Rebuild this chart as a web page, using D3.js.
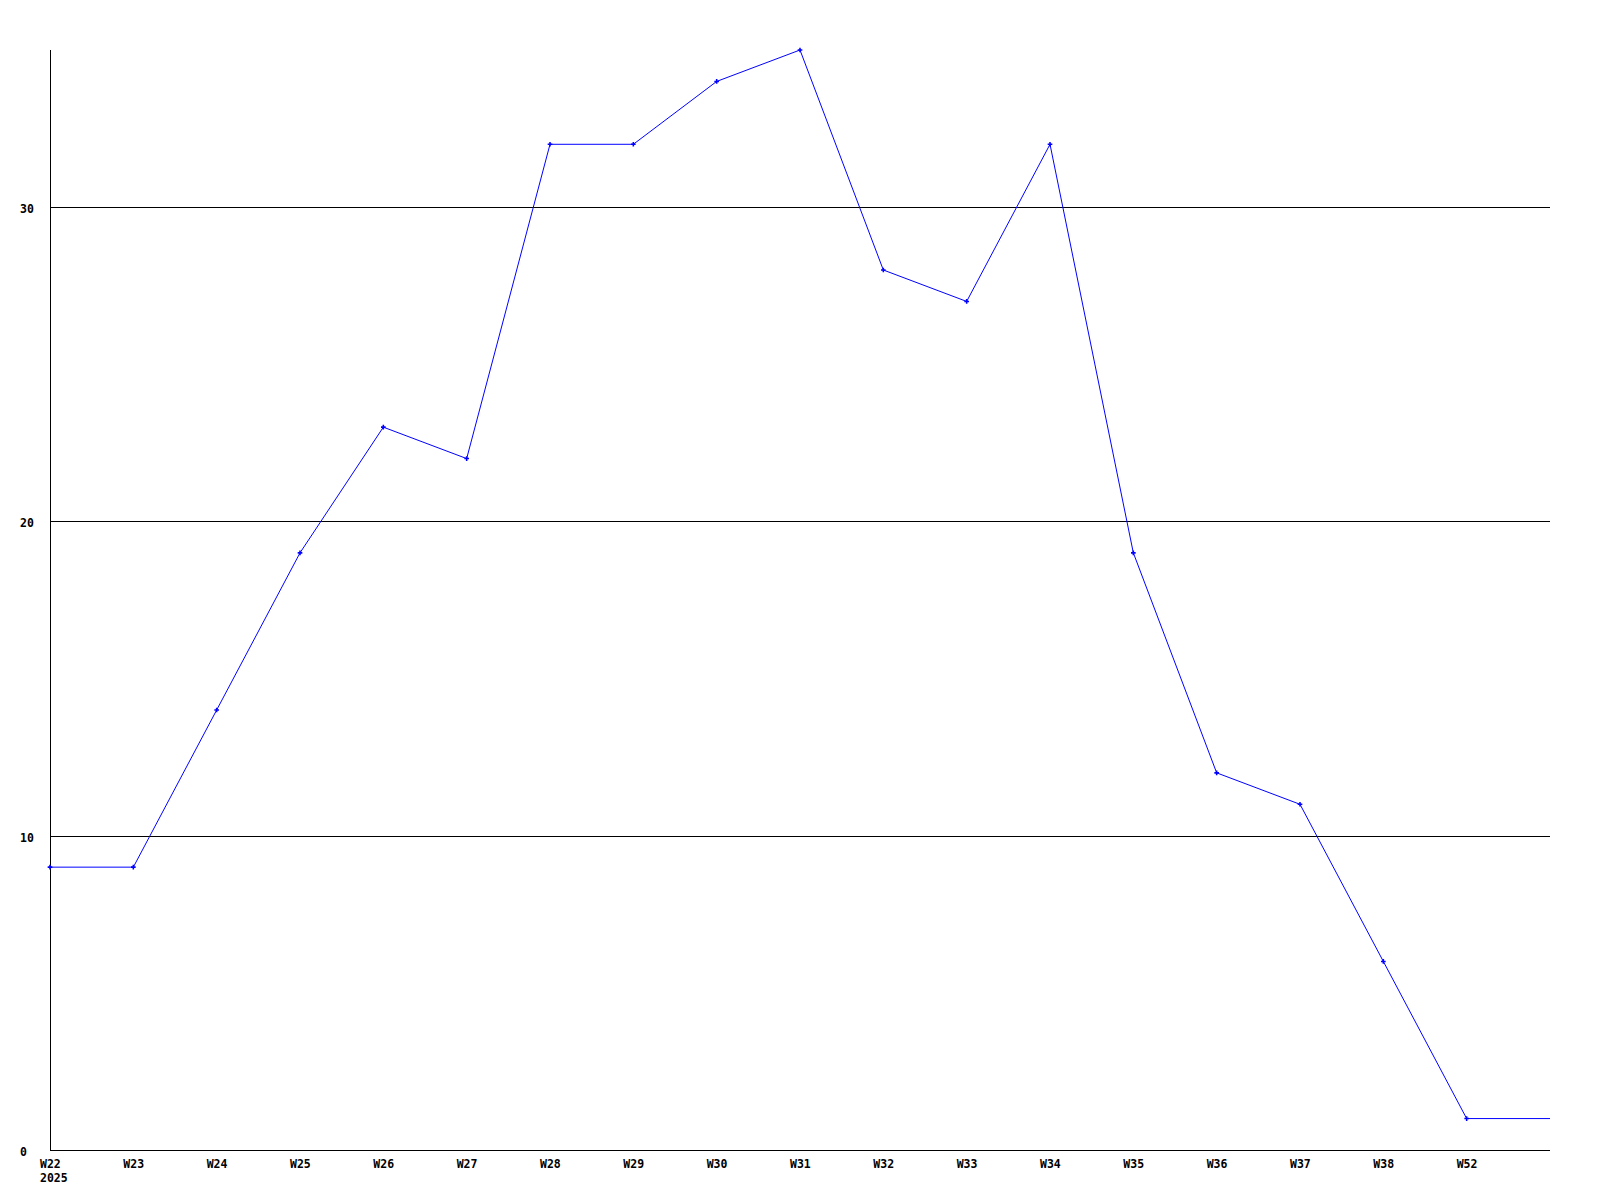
<!DOCTYPE html>
<html>
<head>
<meta charset="utf-8">
<script src="https://cdn.jsdelivr.net/npm/d3@7"></script>
<style>
html,body{margin:0;padding:0;background:#fff;}
svg text{font-family:"DejaVu Sans Mono",monospace;font-weight:bold;font-size:11.5px;fill:#000;}
</style>
</head>
<body>
<svg id="chart" width="1600" height="1200"></svg>
<script>
const categories = ["W22","W23","W24","W25","W26","W27","W28","W29","W30","W31","W32","W33","W34","W35","W36","W37","W38","W52"];
const values = [9,9,14,19,23,22,32,32,34,35,28,27,32,19,12,11,6,1];
const yTicks = [0,10,20,30];
const yearLabel = "2025";

(function(){
const svg = d3.select("#chart");
const mLeft = 50, mRight = 1550, mTop = 50, mBottom = 1150;

const x = d3.scaleLinear().domain([0, categories.length]).range([mLeft, mRight]);
const y = d3.scaleLinear().domain([0, 35]).range([mBottom, mTop]);

// gridlines
svg.append("g").selectAll("line").data(yTicks.filter(d => d > 0)).join("line")
  .attr("x1", mLeft).attr("x2", mRight)
  .attr("y1", d => Math.round(y(d)) + 0.5).attr("y2", d => Math.round(y(d)) + 0.5)
  .attr("stroke", "#000").attr("stroke-width", 1);

// axes lines
svg.append("line").attr("x1", mLeft + 0.5).attr("x2", mLeft + 0.5).attr("y1", mTop).attr("y2", mBottom)
  .attr("stroke", "#000");
svg.append("line").attr("x1", mLeft).attr("x2", mRight).attr("y1", mBottom + 0.5).attr("y2", mBottom + 0.5)
  .attr("stroke", "#000");

// y labels
svg.append("g").selectAll("text").data(yTicks).join("text")
  .attr("x", 20).attr("y", d => Math.round(y(d)) + 6)
  .attr("text-anchor", "start").text(d => d);

// x labels
svg.append("g").selectAll("text").data(categories).join("text")
  .attr("x", (d, i) => x(i) - 10).attr("y", 1168)
  .attr("text-anchor", "start").text(d => d);
svg.append("text").attr("x", 40).attr("y", 1182).text(yearLabel);

// line (last value extends to the right edge)
const pts = values.map((v, i) => [x(i), y(v)]);
pts.push([x(categories.length), y(values[values.length - 1])]);
svg.append("path").attr("d", d3.line()(pts))
  .attr("fill", "none").attr("stroke", "#0000ff").attr("stroke-width", 1);

// markers
svg.append("g").selectAll("path").data(values).join("path")
  .attr("d", d3.symbol(d3.symbolCross, 12)())
  .attr("transform", (d, i) => `translate(${x(i)},${y(d)})`)
  .attr("fill", "#0000ff");
})();
</script>
</body>
</html>
